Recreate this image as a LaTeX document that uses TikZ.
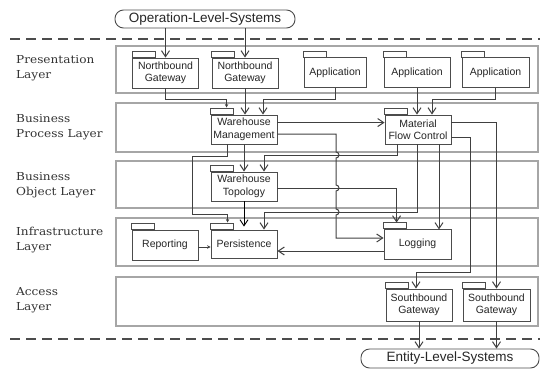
\documentclass[tikz,border=0pt]{standalone}
\usepackage{fontspec}
\setmainfont{Liberation Sans}
\newfontfamily\layerfont[FakeStretch=1.1]{DejaVu Serif}
\usetikzlibrary{arrows.meta,calc}

\begin{document}
\begin{tikzpicture}[x=1pt,y=-1pt,
  layerbox/.style={draw=black!35, line width=1.5pt, minimum width=422pt, inner sep=0pt},
  layerlabel/.style={anchor=west, align=left, inner sep=0pt,
    font=\layerfont\fontsize{11}{15}\selectfont, text=black!80},
  comp/.style={draw=black!70, line width=0.9pt, fill=white, minimum width=66pt,
    minimum height=30pt, inner sep=0pt, align=center,
    font=\fontsize{10.5}{12.5}\selectfont, text=black!85},
  ext/.style={draw=black!70, line width=0.9pt, rounded corners=8.5pt, minimum height=18pt,
    inner sep=0pt, font=\fontsize{13.5}{15}\selectfont, text=black!85},
  sep/.style={draw=black!70, line width=1.8pt, dash pattern=on 10pt off 6pt},
  conn/.style={draw=black!75, line width=1pt, -{Straight Barb[length=6pt,width=8pt]}},
  connsmall/.style={draw=black!75, line width=1pt, -{Stealth[length=3.5pt,width=3.5pt]}},
  tab/.style={draw=black!70, line width=0.9pt, fill=white},
]
\useasboundingbox (0,0) rectangle (545,369);

% layer frames
\node[layerbox, minimum height=47pt] (lpres)  at (327,69.5)  {};
\node[layerbox, minimum height=49pt] (lproc)  at (327,127.5) {};
\node[layerbox, minimum height=47pt] (lobj)   at (327,184.5) {};
\node[layerbox, minimum height=48pt] (linfra) at (327,242)   {};
\node[layerbox, minimum height=49pt] (lacc)   at (327,301.5) {};

% layer names
\node[layerlabel] (tpres)  at (16,68.5) {Presentation\\Layer};
\node[layerlabel] (tproc)  at (16,127)  {Business\\Process Layer};
\node[layerlabel] (tobj)   at (16,185)  {Business\\Object Layer};
\node[layerlabel] (tinfra) at (16,240.5){Infrastructure\\Layer};
\node[layerlabel] (tacc)   at (16,300)  {Access\\Layer};

% system boundaries
\coordinate (sepTL) at (10,39);  \coordinate (sepTR) at (540,39);
\coordinate (sepBL) at (10,339); \coordinate (sepBR) at (540,339);
\draw[sep] (sepTL) -- (sepTR);
\draw[sep] (sepBL) -- (sepBR);

% external systems
\node[ext, minimum width=180pt] (ols) at (205,19) {Operation-Level-Systems};
\node[ext, minimum width=178pt, minimum height=19pt] (els) at (450,358.5) {Entity-Level-Systems};

% components
\node[comp] (nb1) at (165.5,73) {Northbound\\Gateway};
\node[comp] (nb2) at (245,73) {Northbound\\Gateway};
\node[comp, minimum width=62pt] (app1) at (335,72.5) {Application};
\node[comp] (app2) at (417,72.5) {Application};
\node[comp, minimum width=67pt] (app3) at (495.5,72.5) {Application};
\node[comp, minimum height=29pt] (wm) at (244,129.5) {Warehouse\\Management};
\node[comp, minimum height=29pt] (mfc) at (418,129.5) {Material\\Flow Control};
\node[comp, minimum height=29pt] (wt) at (244,186.5) {Warehouse\\Topology};
\node[comp] (rep) at (165,245) {Reporting};
\node[comp, minimum height=28pt] (per) at (244,244) {Persistence};
\node[comp, minimum width=67pt] (log) at (417.5,244) {Logging};
\node[comp, minimum height=32pt] (sb1) at (419,305) {Southbound\\Gateway};
\node[comp, minimum width=67pt, minimum height=32pt] (sb2) at (496.5,305) {Southbound\\Gateway};

% package tabs
\foreach \n in {nb1,nb2,app1,app2,app3,wm,mfc,wt,rep,per,log,sb1,sb2}
  \draw[tab] (\n.north west) rectangle ++(23,-6);

% presentation -> process
\draw[conn] (ols.south -| nb1.north) -- (nb1.north);
\draw[conn] (ols.south -| nb2.north) -- (nb2.north);
\draw[connsmall] (nb1.south) -- ++(0,11) -| ($(wm.north west)+(16,-7)$);
\draw[conn] (nb2.south) -- (nb2.south |- wm.north);
\draw[conn] (app1.south) -- ++(0,12) -| ($(wm.north)+(19,0)$);
\draw[conn] (app2.south) -- (app2.south |- mfc.north);
\draw[conn] (app3.south) -- ++(0,12) -| ($(mfc.north)+(14,0)$);

% process layer
\draw[conn] ($(wm.north east)+(0,8)$) -- ($(mfc.north west)+(0,8)$);
\draw[conn] ($(wm.east)+(0,4.5)$) -- (336,134) -- (336,152)
  arc[start angle=-90, end angle=90, radius=3] -- (336,185)
  arc[start angle=-90, end angle=90, radius=3] -- (336,209)
  arc[start angle=-90, end angle=90, radius=3] -- (336,238) -- ($(log.west)+(0,-6)$);
\draw[conn] (wm.south) -- (wm.south |- wt.north);
\draw[conn] ($(mfc.south)+(-21,0)$) -- ++(0,11) -| ($(wt.north)+(20,0)$);
\draw[connsmall] ($(wm.south)+(-17,0)$) |- (192,156) -- (192,214) -| ($(per.north west)+(17,-7)$);
\draw[conn] ($(mfc.south)+(-1,0)$) -- ++(0,68) -| ($(per.north)+(20,0)$);
\draw[conn] ($(mfc.south)+(21,0)$) -- ++(0,85);
\draw[conn] ($(mfc.north east)+(0,8)$) -| (sb2.north);
\draw[conn] ($(mfc.east)+(0,7.5)$) -- ++(19,0) -- ++(0,135) -| ($(sb1.north)+(-3,0)$);

% object layer
\draw[black, line width=0.9pt, -{Straight Barb[length=6pt,width=8pt]}] (wt.south) -- ($(per.north)+(0,-3)$);
\draw[conn] ($(wt.east)+(0,1.5)$) -| ($(log.north west)+(13,-6)$);

% infrastructure layer
\draw[conn] ($(log.west)+(0,7)$) -- ($(per.east)+(0,7)$);
\draw[connsmall] ($(rep.east)+(0,2)$) -- ($(per.west)+(0,3)$);

% access -> field
\draw[conn] (sb1.south) -- (sb1.south |- els.north);
\draw[conn] (sb2.south) -- (sb2.south |- els.north);
\end{tikzpicture}
\end{document}
